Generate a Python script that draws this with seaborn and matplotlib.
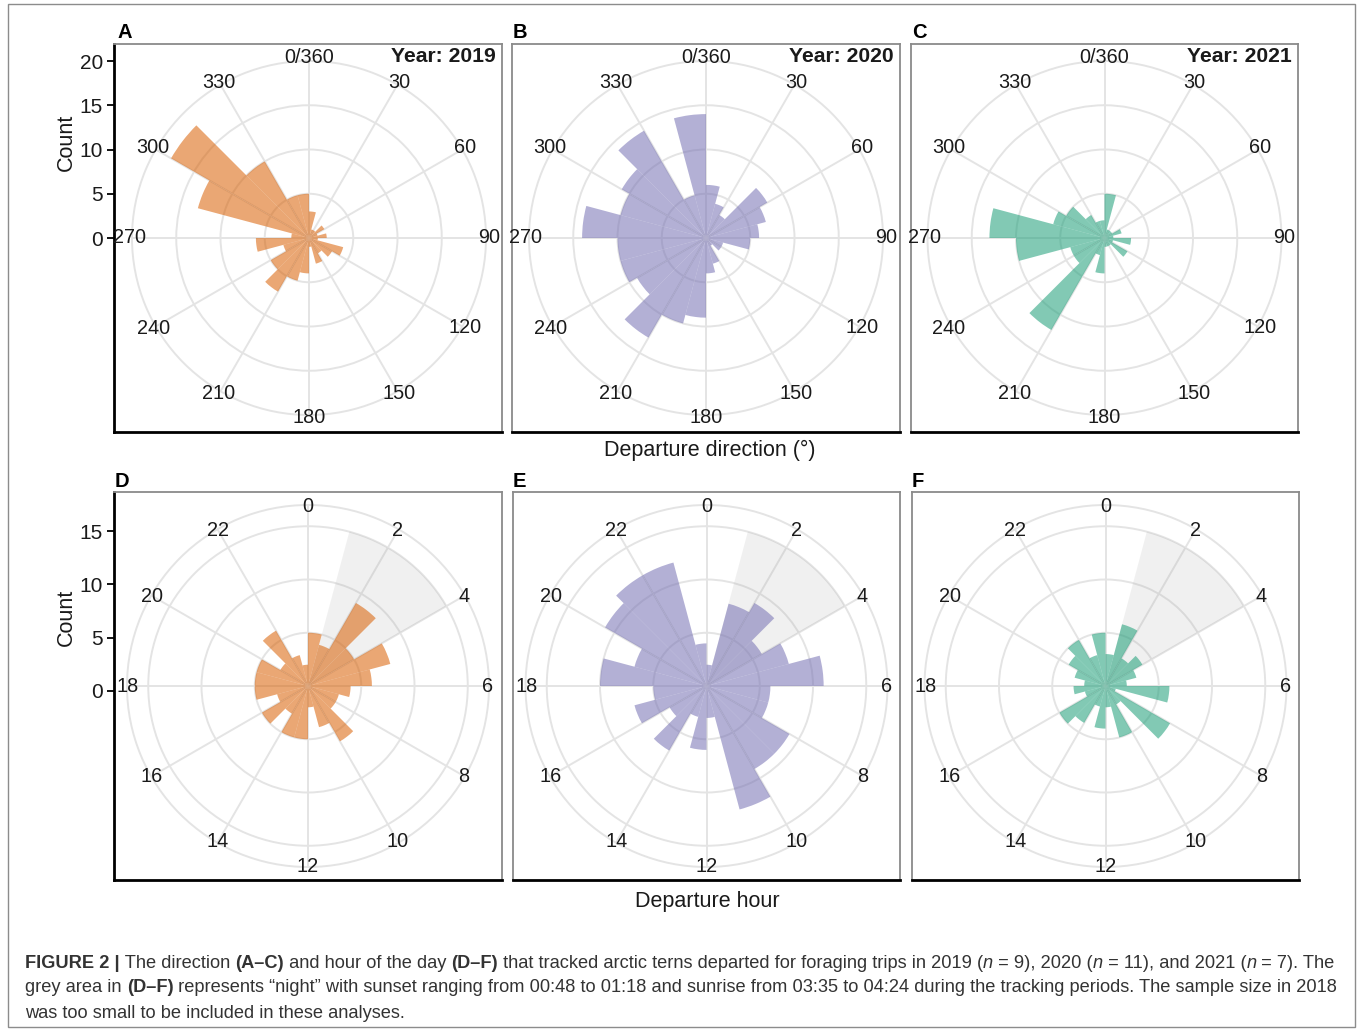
import numpy as np
import pandas as pd
import matplotlib
matplotlib.use("Agg")
import matplotlib.pyplot as plt
from matplotlib.patches import Rectangle
import seaborn as sns

# ---------------------------------------------------------------- data
years = [2019, 2020, 2021]

# departure direction: trips per 15-degree sector (sector start, degrees)
direction_bins = list(range(0, 360, 15))
direction_2019 = [3, 1, 1, 2, 1, 2, 1, 4, 3, 2, 3, 1,
                  4, 5, 7, 5, 3, 6, 2, 13, 18, 10, 5, 5]
direction_2020 = [6, 4, 3, 8, 7, 6, 5, 2, 2, 1, 3, 4,
                  9, 10, 13, 9, 10, 10, 14, 10, 11, 14, 5, 14]
direction_2021 = [5, 1, 1, 1, 2, 1, 3, 1, 3, 1, 1, 1,
                  4, 2, 12, 4, 4, 10, 13, 6, 5, 3, 2, 2]

# departure hour: trips per one-hour bin (bin start, hour of day)
hour_bins = list(range(24))
hour_2019 = [5, 4, 9, 5, 8, 6, 4, 3, 3, 6, 4, 2,
             5, 5, 3, 5, 3, 5, 5, 5, 3, 6, 3, 2]
hour_2020 = [2, 8, 9, 6, 8, 11, 6, 6, 9, 9, 12, 3,
             6, 3, 7, 4, 7, 5, 10, 7, 11, 12, 12, 4]
hour_2021 = [3, 6, 3, 4, 3, 2, 6, 1, 7, 2, 5, 2,
             4, 2, 4, 5, 2, 3, 2, 3, 4, 5, 3, 5]

direction_ticks = list(range(0, 360, 30))
direction_tick_labels = ["0/360"] + [str(d) for d in direction_ticks[1:]]
hour_ticks = list(range(0, 24, 2))
hour_tick_labels = [str(h) for h in hour_ticks]
count_ticks_direction = [0, 5, 10, 15, 20]
count_ticks_hour = [0, 5, 10, 15]

# "night": sunset to sunrise during the tracking periods (hours)
night_start, night_end, night_top = 1, 4, 15

# ---------------------------------------------------------------- style
sns.set_theme(style="white")
plt.rcParams["font.family"] = ["Liberation Sans", "DejaVu Sans"]

W, H = 1358, 1031
fig = plt.figure(figsize=(W / 100, H / 100), dpi=100)

dark2 = sns.color_palette("Dark2", 3)
year_colors = {2019: dark2[1], 2020: dark2[2], 2021: dark2[0]}
GRID = "#E4E4E4"
TXT = "#1a1a1a"


def fig_rect(x0, y0, x1, y1):
    """pixel box (top-left origin) -> figure fraction rect"""
    return [x0 / W, 1 - y1 / H, (x1 - x0) / W, (y1 - y0) / H]


def frame_axes(box, zero_px, px_per_unit, ticks, show_y):
    x0, y0, x1, y1 = box
    ax = fig.add_axes(fig_rect(x0, y0, x1, y1), zorder=0)
    ax.set_xlim(0, 1)
    ax.set_ylim(-(y1 - zero_px) / px_per_unit, (zero_px - y0) / px_per_unit)
    ax.set_xticks([])
    ax.set_facecolor("white")
    for side in ["top", "right", "left"]:
        ax.spines[side].set_color("#8a8a8a")
        ax.spines[side].set_linewidth(1.3)
    ax.spines["bottom"].set_color("black")
    ax.spines["bottom"].set_linewidth(2.0)
    if show_y:
        ax.spines["left"].set_color("black")
        ax.spines["left"].set_linewidth(2.0)
        ax.set_yticks(ticks)
        ax.set_yticklabels([str(t) for t in ticks], fontsize=15, color=TXT)
        ax.tick_params(axis="y", left=True, length=5, width=1.3,
                       color="black", pad=3)
    else:
        ax.set_yticks([])
    return ax


def polar_axes(center, r_outer, px_per_unit):
    cx, cy = center
    R = r_outer * px_per_unit
    ax = fig.add_axes(fig_rect(cx - R, cy - R, cx + R, cy + R),
                      projection="polar", zorder=1)
    ax.set_facecolor("none")
    return ax


def finish_polar(ax, r_outer, px_per_unit, tick_angles, tick_labels):
    ax.set_theta_zero_location("N")
    ax.set_theta_direction(-1)
    ax.set_xlim(0, 2 * np.pi)
    ax.set_ylim(0, r_outer)
    ax.set_xticks(np.deg2rad(tick_angles))
    ax.set_xticklabels([])
    ax.set_yticks([5, 10, 15])
    ax.set_yticklabels([])
    ax.set_xlabel("")
    ax.set_ylabel("")
    ax.grid(True, color=GRID, linewidth=1.4)
    ax.set_axisbelow(True)
    ax.spines["polar"].set_color(GRID)
    ax.spines["polar"].set_linewidth(1.4)
    r_lab = 180 / px_per_unit
    for ang, lab in zip(tick_angles, tick_labels):
        ax.text(np.deg2rad(ang), r_lab, lab, ha="center", va="center",
                fontsize=14.3, color=TXT, clip_on=False, zorder=5)


def rose(ax, bin_start_deg, width_deg, counts, color):
    df = pd.DataFrame({
        "theta": np.deg2rad(np.asarray(bin_start_deg, float) + width_deg / 2),
        "count": counts,
    })
    sns.barplot(data=df, x="theta", y="count", native_scale=True, width=1.0,
                color=color, saturation=1, alpha=0.55, linewidth=0,
                errorbar=None, ax=ax, zorder=3)


# ---------------------------------------------------------------- panels
top = dict(pxu=8.85, r_outer=20.0)
bottom = dict(pxu=10.65, r_outer=181 / 10.65)

direction_data = {2019: direction_2019, 2020: direction_2020, 2021: direction_2021}
hour_data = {2019: hour_2019, 2020: hour_2020, 2021: hour_2021}

top_boxes = [(114, 44, 502, 432), (512, 44, 900, 432), (911, 44, 1298, 432)]
top_centers = [(309, 238), (706, 238), (1104.5, 238)]
bot_boxes = [(114, 492, 502, 880), (513, 492, 900, 880), (912, 492, 1299, 880)]
bot_centers = [(308, 686), (706.5, 686), (1105.5, 686)]
letters_top = [("A", 117), ("B", 513), ("C", 912)]
letters_bot = [("D", 115), ("E", 513), ("F", 912)]

for i, yr in enumerate(years):
    # departure direction
    frame_axes(top_boxes[i], 238, top["pxu"], count_ticks_direction, i == 0)
    pax = polar_axes(top_centers[i], top["r_outer"], top["pxu"])
    rose(pax, direction_bins, 15, direction_data[yr], year_colors[yr])
    finish_polar(pax, top["r_outer"], top["pxu"], direction_ticks,
                 direction_tick_labels)
    fig.text((top_boxes[i][2] - 6) / W, 1 - 57 / H, f"Year: {yr}",
             ha="right", va="center", fontsize=15.2, fontweight="bold",
             color=TXT)
    fig.text(letters_top[i][1] / W, 1 - 33 / H, letters_top[i][0],
             ha="left", va="center", fontsize=14.5, fontweight="bold",
             color="black")

    # departure hour
    frame_axes(bot_boxes[i], 691, bottom["pxu"], count_ticks_hour, i == 0)
    pax = polar_axes(bot_centers[i], bottom["r_outer"], bottom["pxu"])
    pax.bar(np.deg2rad(night_start * 15), night_top,
            width=np.deg2rad((night_end - night_start) * 15), align="edge",
            color="#9a9a9a", alpha=0.14, linewidth=0, zorder=2)
    rose(pax, np.asarray(hour_bins) * 15, 15, hour_data[yr], year_colors[yr])
    finish_polar(pax, bottom["r_outer"], bottom["pxu"],
                 np.asarray(hour_ticks) * 15, hour_tick_labels)
    fig.text(letters_bot[i][1] / W, 1 - 481 / H, letters_bot[i][0],
             ha="left", va="center", fontsize=14.5, fontweight="bold",
             color="black")

# shared labels
fig.text(66 / W, 1 - 142 / H, "Count", rotation=90, ha="center", va="center",
         fontsize=15.5, color=TXT)
fig.text(66 / W, 1 - 617 / H, "Count", rotation=90, ha="center", va="center",
         fontsize=15.5, color=TXT)
fig.text(710 / W, 1 - 450 / H, "Departure direction (°)", ha="center",
         va="center", fontsize=15.5, color=TXT)
fig.text(707 / W, 1 - 902 / H, "Departure hour", ha="center", va="center",
         fontsize=15.5, color=TXT)

# ---------------------------------------------------------------- caption
renderer = fig.canvas.get_renderer()
CAP = "#333333"


def seg_width(s, **kw):
    t = fig.text(0, 0, "|" + s + "|", **kw)
    w = t.get_window_extent(renderer).width
    t.remove()
    t = fig.text(0, 0, "||", **kw)
    w -= t.get_window_extent(renderer).width
    t.remove()
    return w


def styles(tag, size):
    kw = dict(fontsize=size, color=CAP)
    if tag == "b":
        kw.update(fontweight="bold")
    elif tag == "i":
        kw.update(fontstyle="italic")
    return kw


caption = [
    [("FIGURE 2 |", "b"), (" The direction ", ""), ("(A–C)", "b"),
     (" and hour of the day ", ""), ("(D–F)", "b"),
     (" that tracked arctic terns departed for foraging trips in 2019 (", ""),
     ("n", "i"), (" = 9), 2020 (", ""), ("n", "i"), (" = 11), and 2021 (", ""),
     ("n", "i"), (" = 7). The", "")],
    [("grey area in ", ""), ("(D–F)", "b"),
     (" represents “night” with sunset ranging from 00:48 to 01:18 and sunrise "
      "from 03:35 to 04:24 during the tracking periods. The sample size in 2018", "")],
    [("was too small to be included in these analyses.", "")],
]

base = 13.0
w1 = sum(seg_width(s, **styles(t, base)) for s, t in caption[0])
cap_size = base * 1303 / w1
for line, ypx in zip(caption, [963, 988, 1013]):
    x = 25.0
    for s, t in line:
        kw = styles(t, cap_size)
        fig.text(x / W, 1 - ypx / H, s, ha="left", va="center", **kw)
        x += seg_width(s, **kw)

# outer frame of the figure
fig.patches.append(Rectangle((8 / W, 1 - 1027 / H), 1347 / W, 1023 / H,
                             transform=fig.transFigure, fill=False,
                             edgecolor="#8c8c8c", linewidth=1.0))

fig.savefig("out.png", dpi=100)
